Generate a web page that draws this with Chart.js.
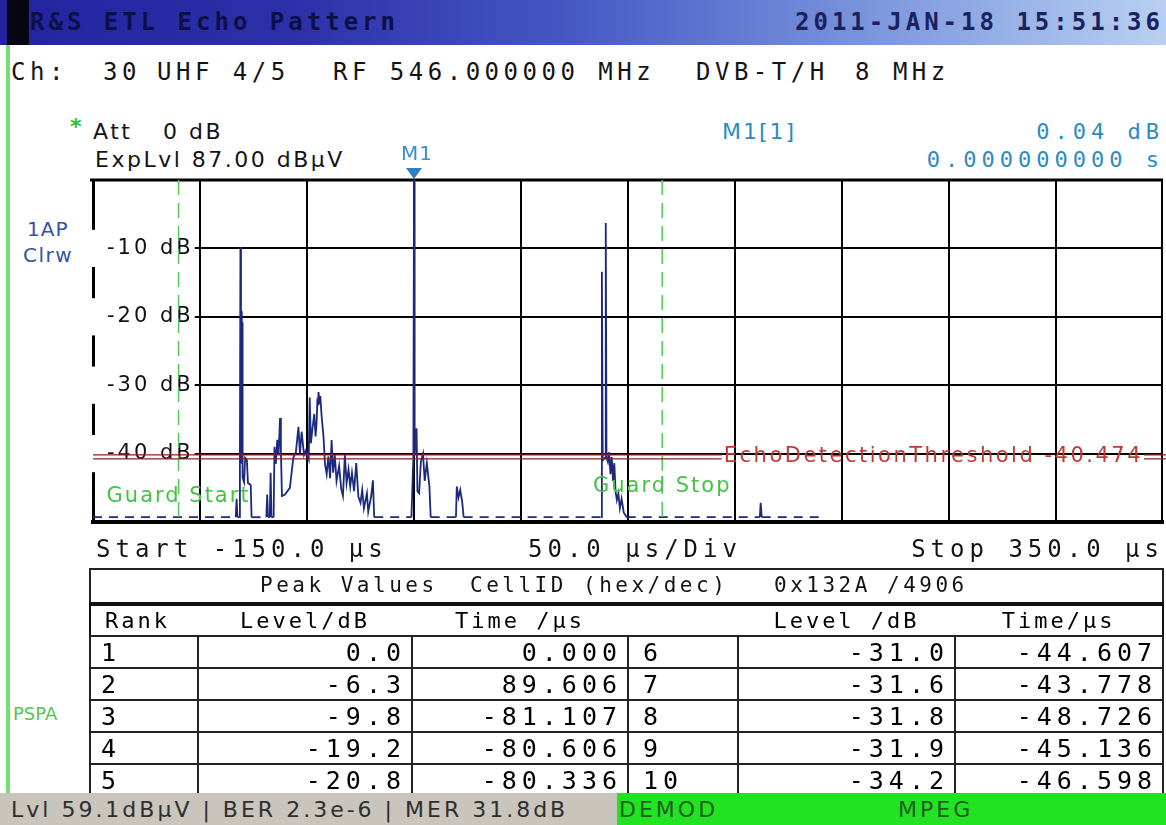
<!DOCTYPE html>
<html>
<head>
<meta charset="utf-8">
<title>R&amp;S ETL Echo Pattern</title>
<script src="https://cdn.jsdelivr.net/npm/chart.js@4.4.1/dist/chart.umd.min.js"></script>
<style>
  html, body { margin: 0; padding: 0; background: #fff; }
  #screen { position: relative; width: 1166px; height: 825px; overflow: hidden; background: #fff; }
  .t { position: absolute; white-space: pre; line-height: 1; color: #141414; }
  .mono { font-family: 'DejaVu Sans Mono', monospace; }
  .sans { font-family: 'DejaVu Sans', sans-serif; }
  #titlebar { position: absolute; left: 0; top: 0; width: 1166px; height: 45px;
    background: linear-gradient(to right, #2323a0 0%, #2c30a8 25%, #4556c4 48%, #7a94dc 74%, #b9d0f2 100%); }
  #titlebar .blk { position: absolute; left: 7px; top: 0; width: 22px; height: 45px; background: #060612; }
  #greenstrip { position: absolute; left: 6px; top: 45px; width: 4px; height: 750px; background: #74e074; }
  #plotbox { position: absolute; left: 0; top: 140px; width: 1166px; height: 400px; }
  #peaks { position: absolute; left: 89px; top: 568px; width: 1073px; border-collapse: collapse;
    table-layout: fixed; border: 2px solid #111; }
  #peaks td { padding: 0; border: 2px solid #222; white-space: pre; line-height: 1; }
  #peaks tr.h1 td { height: 32px; border-bottom: 4px solid #111; }
  #peaks tr.h2 td { height: 29px; border-left: none; border-right: none; text-align: center;
    font: 22px 'DejaVu Sans Mono', monospace; letter-spacing: 3px; }
  #peaks tr.row td { height: 30px; font: 25px 'DejaVu Sans Mono', monospace; letter-spacing: 5px; }
  #peaks td.rk { padding-left: 10px; }
  #peaks td.rk2 { padding-left: 14px; }
  #peaks td.num { text-align: right; padding-right: 5px; }
  #statusgrey { position: absolute; left: 0; top: 793px; width: 617px; height: 32px; background: #c9c5bd; }
  #statusgreen { position: absolute; left: 617px; top: 793px; width: 549px; height: 32px; background: #22e322; }
</style>
</head>
<body>
<div id="screen">
  <div id="titlebar"><div class="blk"></div></div>
  <div id="greenstrip"></div>

  <div class="t mono" style="left:30px; top:10px; font-size:24px; font-weight:bold; letter-spacing:4px; color:#0e1048;">R&amp;S ETL Echo Pattern</div>
  <div class="t mono" style="right:2px; top:10px; font-size:24px; font-weight:bold; letter-spacing:4px; color:#1a225e;">2011-JAN-18 15:51:36</div>

  <div class="t mono" style="left:11px; top:60px; font-size:24px; letter-spacing:4.5px;">Ch:</div>
  <div class="t mono" style="left:103px; top:60px; font-size:24px; letter-spacing:4.5px;">30</div>
  <div class="t mono" style="left:157px; top:60px; font-size:24px; letter-spacing:4.5px;">UHF 4/5</div>
  <div class="t mono" style="left:333px; top:60px; font-size:24px; letter-spacing:4.5px;">RF 546.000000 MHz</div>
  <div class="t mono" style="left:696px; top:60px; font-size:24px; letter-spacing:4.5px;">DVB-T/H</div>
  <div class="t mono" style="left:855px; top:60px; font-size:24px; letter-spacing:4.5px;">8 MHz</div>

  <div class="t sans" style="left:70px; top:116px; font-size:22px; font-weight:bold; color:#2fc02f;">*</div>
  <div class="t sans" style="left:93px; top:121px; font-size:22px; letter-spacing:2.5px;">Att</div>
  <div class="t sans" style="left:163px; top:121px; font-size:22px; letter-spacing:2.5px;">0 dB</div>
  <div class="t sans" style="left:95px; top:149px; font-size:22px; letter-spacing:2.5px;">ExpLvl 87.00 dBµV</div>

  <div class="t sans" style="left:722px; top:121px; font-size:22px; letter-spacing:2px; color:#2b8cc0;">M1[1]</div>
  <div class="t mono" style="right:2px; top:121px; font-size:22px; letter-spacing:5px; color:#2b8cc0;">0.04 dB</div>
  <div class="t mono" style="right:2px; top:149px; font-size:22px; letter-spacing:5px; color:#2b8cc0;">0.000000000 s</div>

  <div class="t sans" style="left:27px; top:219px; font-size:20px; letter-spacing:1px; color:#3552a6;">1AP</div>
  <div class="t sans" style="left:23px; top:245px; font-size:20px; letter-spacing:1.5px; color:#3552a6;">Clrw</div>

  <div id="plotbox"><canvas id="echoChart" width="1166" height="400"></canvas></div>

  <div class="t mono" style="left:96px; top:537px; font-size:24px; letter-spacing:5px;">Start -150.0 µs</div>
  <div class="t mono" style="left:528px; top:537px; font-size:24px; letter-spacing:5px;">50.0 µs/Div</div>
  <div class="t mono" style="right:2px; top:537px; font-size:24px; letter-spacing:5px;">Stop 350.0 µs</div>

  <table id="peaks">
    <colgroup>
      <col style="width:108px"><col style="width:214px"><col style="width:216px">
      <col style="width:110px"><col style="width:217px"><col style="width:208px">
    </colgroup>
    <tbody id="peakBody">
      <tr class="h1"><td colspan="6"></td></tr>
      <tr class="h2"><td style="text-align:left; padding-left:14px;">Rank</td><td>Level/dB</td><td>Time /µs</td><td></td><td>Level /dB</td><td>Time/µs</td></tr>
    </tbody>
  </table>
  <div class="t mono" style="left:260px; top:575px; font-size:21px; letter-spacing:3.5px;">Peak Values</div>
  <div class="t mono" style="left:470px; top:575px; font-size:21px; letter-spacing:3.5px;">CellID (hex/dec)</div>
  <div class="t mono" id="cellText" style="left:774px; top:575px; font-size:21px; letter-spacing:3.5px;"></div>

  <div class="t sans" style="left:13px; top:705px; font-size:18px; color:#56c456;">PSPA</div>

  <div id="statusgrey"></div>
  <div id="statusgreen"></div>
  <div class="t sans" style="left:11px; top:799px; font-size:22px; letter-spacing:3px; color:#2e2e2e;">Lvl 59.1dBµV | BER 2.3e-6 | MER 31.8dB</div>
  <div class="t sans" style="left:619px; top:799px; font-size:22px; letter-spacing:3px; color:#1d5e1d;">DEMOD</div>
  <div class="t sans" style="left:898px; top:799px; font-size:22px; letter-spacing:3px; color:#1d5e1d;">MPEG</div>
</div>

<script>
// axis ranges
const timeMin = -150, timeMax = 350, timeStep = 50;
const levelMin = -50, levelMax = 0;
const levelTicks = [-10, -20, -30, -40];

// trace (time in µs, level in dB)
const noiseFloor = -49.3;
const traceTime = [
  -150, -83.3, -82.9, -82.5, -81.6, -81.35, -81.107, -80.85, -80.606, -80.47,
  -80.336, -80.1, -79.4, -78.9, -78.1, -77.6, -76.3, -75.9, -69.0, -68.6,
  -68.2, -67.4, -67.0, -66.6, -65.6, -65.2, -64.6, -63.9, -63.3, -62.6,
  -62.2, -61.7, -60.3, -58.0, -56.4, -55.2, -54.0, -53.3, -52.5, -51.4,
  -50.5, -49.2, -48.726, -48.2, -47.4, -46.598, -46.0, -45.5, -45.136, -44.9,
  -44.607, -44.2, -43.778, -43.2, -42.3, -41.6, -40.8, -40.0, -39.2, -38.5,
  -37.8, -37.0, -36.2, -35.0, -34.0, -33.2, -32.3, -31.5, -30.6, -29.8,
  -29.0, -28.0, -27.0, -26.0, -25.0, -24.2, -23.4, -22.0, -21.4, -20.0,
  -19.2, -18.6, -1.2, -0.3, 0, 0.3, 1.2, 1.6, 2.4, 3.2,
  4.2, 5.0, 6.0, 7.2, 7.8, 19.6, 20.0, 20.8, 21.6, 22.5,
  23.2, 87.5, 87.8, 88.2, 89.3, 89.606, 89.95, 90.6, 91.2, 91.8,
  92.4, 93.0, 93.6, 94.2, 94.8, 95.5, 96.2, 97.0, 98.0, 99.4,
  161.6, 162.0, 162.5, 190
];
const traceLevel = [
  noiseFloor, noiseFloor, -46.6, noiseFloor, noiseFloor, -40.8, -9.8, -41.5, -19.2, -30.5,
  -20.8, -43.5, -44.2, -40.6, -40.9, -44.3, -44.6, noiseFloor, noiseFloor, -46.0,
  noiseFloor, noiseFloor, -42.8, noiseFloor, noiseFloor, -39.0, -41.5, -38.0, -40.2, -34.8,
  -39.5, -46.2, -46.0, -45.0, -40.6, -39.8, -36.1, -40.0, -36.8, -40.2,
  -39.5, -40.8, -31.8, -38.5, -36.2, -34.2, -37.5, -35.5, -31.9, -33.0,
  -31.0, -32.8, -31.6, -34.4, -37.5, -41.5, -43.0, -40.4, -43.6, -38.0,
  -42.8, -40.2, -44.0, -41.8, -45.2, -46.2, -40.2, -44.3, -42.3, -44.8,
  -42.8, -45.5, -41.4, -46.3, -47.2, -45.3, -48.0, -45.8, -48.5, -46.2,
  -43.9, noiseFloor, noiseFloor, -40.5, 0.0, -40.2, -36.3, -45.5, -45.8, -41.2,
  -40.0, -44.0, -41.4, -44.8, noiseFloor, noiseFloor, -44.8, -46.4, -45.3, -47.0,
  noiseFloor, noiseFloor, -13.4, -41.0, -40.6, -6.3, -40.5, -41.2, -39.8, -43.0,
  -40.5, -44.0, -41.4, -45.6, -46.8, -45.8, -48.0, -46.6, -48.6, noiseFloor,
  noiseFloor, -47.2, noiseFloor, noiseFloor
];

const guardTimes = [-110, 116];
const guardNames = ['Guard Start', 'Guard Stop'];
const thresholdName = 'EchoDetectionThreshold';
const thresholdLevel = -40.474;
const markerName = 'M1';
const markerTime = 0;

// peak table
const peakRank = [1, 2, 3, 4, 5, 6, 7, 8, 9, 10];
const peakLevel = [0.0, -6.3, -9.8, -19.2, -20.8, -31.0, -31.6, -31.8, -31.9, -34.2];
const peakTime = [0.000, 89.606, -81.107, -80.606, -80.336, -44.607, -43.778, -48.726, -45.136, -46.598];
const cellIdHex = '0x132A';
const cellIdDec = 4906;

document.getElementById('cellText').textContent = cellIdHex + ' /' + cellIdDec;

const body = document.getElementById('peakBody');
for (let i = 0; i < 5; i++) {
  const j = i + 5;
  const tr = document.createElement('tr');
  tr.className = 'row';
  tr.innerHTML =
    '<td class="rk">' + peakRank[i] + '</td>' +
    '<td class="num">' + peakLevel[i].toFixed(1) + '</td>' +
    '<td class="num">' + peakTime[i].toFixed(3) + '</td>' +
    '<td class="rk2">' + peakRank[j] + '</td>' +
    '<td class="num">' + peakLevel[j].toFixed(1) + '</td>' +
    '<td class="num">' + peakTime[j].toFixed(3) + '</td>';
  body.appendChild(tr);
}

// frame, threshold, guard lines and marker
const screenDecor = {
  id: 'screenDecor',
  beforeUpdate(chart) { chart.ctx.letterSpacing = '3px'; },
  beforeDraw(chart) { chart.ctx.letterSpacing = '3px'; },
  beforeDatasetsDraw(chart) {
    const { ctx, chartArea: a } = chart;
    ctx.save();
    ctx.strokeStyle = '#000';
    ctx.lineWidth = 3;
    ctx.beginPath();
    ctx.moveTo(a.left - 3, a.top);
    ctx.lineTo(a.right, a.top);
    ctx.stroke();
    ctx.lineWidth = 2;
    ctx.beginPath();
    ctx.moveTo(a.right - 1, a.top);
    ctx.lineTo(a.right - 1, a.bottom);
    ctx.stroke();
    ctx.restore();
  },
  afterDatasetsDraw(chart) {
    const { ctx, chartArea: a, scales: { x, y } } = chart;
    ctx.save();

    // guard interval
    ctx.font = '21px "DejaVu Sans"';
    ctx.letterSpacing = '2px';
    ctx.textAlign = 'center';
    ctx.textBaseline = 'middle';
    guardTimes.forEach((t, i) => {
      const px = x.getPixelForValue(t);
      ctx.strokeStyle = '#52c952';
      ctx.lineWidth = 1.5;
      ctx.setLineDash([15, 8]);
      ctx.beginPath();
      ctx.moveTo(px, a.top);
      ctx.lineTo(px, a.bottom);
      ctx.stroke();
      ctx.setLineDash([]);
      ctx.fillStyle = '#47c047';
      ctx.fillText(guardNames[i], px, a.bottom - (i === 0 ? 25 : 35));
    });

    // echo detection threshold
    const ty = y.getPixelForValue(thresholdLevel);
    ctx.font = '21px "DejaVu Sans"';
    ctx.letterSpacing = '2.5px';
    ctx.textAlign = 'left';
    const label = thresholdName + ' ' + thresholdLevel.toFixed(3);
    const w = ctx.measureText(label).width;
    const textRight = a.right - 20;
    const textLeft = textRight - w;
    ctx.strokeStyle = '#8a2222';
    ctx.lineWidth = 1.4;
    ctx.beginPath();
    [-2, 2].forEach(d => {
      ctx.moveTo(a.left, ty + d);
      ctx.lineTo(textLeft - 2, ty + d);
      ctx.moveTo(textRight + 1, ty + d);
      ctx.lineTo(a.right + 3, ty + d);
    });
    ctx.stroke();
    ctx.fillStyle = '#bf3a32';
    ctx.fillText(label, textLeft, ty);

    // marker M1
    const mx = x.getPixelForValue(markerTime);
    ctx.fillStyle = '#2f80c2';
    ctx.beginPath();
    ctx.moveTo(mx - 8, a.top - 12);
    ctx.lineTo(mx + 8, a.top - 12);
    ctx.lineTo(mx, a.top - 1);
    ctx.closePath();
    ctx.fill();
    ctx.font = '20px "DejaVu Sans"';
    ctx.letterSpacing = '1px';
    ctx.textAlign = 'center';
    ctx.fillStyle = '#3d8ec5';
    ctx.fillText(markerName, mx + 3, a.top - 25);

    ctx.restore();
  }
};

const edgeTick = v => v === timeMin || v === timeMax;

new Chart(document.getElementById('echoChart'), {
  type: 'line',
  data: {
    datasets: [{
      label: 'Echo Pattern',
      data: traceTime.map((t, i) => ({ x: t, y: traceLevel[i] })),
      borderColor: '#1b2a7c',
      borderWidth: 1.8,
      pointRadius: 0,
      tension: 0,
      segment: {
        borderDash: c => (c.p0.parsed.y <= noiseFloor && c.p1.parsed.y <= noiseFloor) ? [9, 7] : undefined
      }
    }]
  },
  options: {
    responsive: false,
    animation: false,
    layout: { padding: { left: 93, top: 40, right: 3, bottom: 18 } },
    plugins: { legend: { display: false }, tooltip: { enabled: false } },
    scales: {
      x: {
        type: 'linear',
        min: timeMin,
        max: timeMax,
        ticks: { display: false, stepSize: timeStep },
        grid: {
          color: c => (c.tick && edgeTick(c.tick.value)) ? 'rgba(0,0,0,0)' : '#000',
          lineWidth: 2,
          drawTicks: false
        },
        border: { color: '#000', width: 4 }
      },
      y: {
        position: 'left',
        min: levelMin,
        max: levelMax,
        afterBuildTicks: s => { s.ticks = levelTicks.map(v => ({ value: v })); },
        // labels sit inside the plot, so the axis itself takes no room
        afterFit: s => { s.width = 0; s.paddingTop = 0; s.paddingBottom = 0; },
        grid: { color: '#000', lineWidth: 2, drawTicks: false },
        border: { color: '#000', width: 3 },
        ticks: {
          mirror: true,
          padding: 14,
          color: '#111',
          font: { family: 'DejaVu Sans', size: 21 },
          showLabelBackdrop: true,
          backdropColor: '#fff',
          backdropPadding: { left: 16, right: 1, top: 6, bottom: 6 },
          callback: v => v + ' dB'
        }
      }
    }
  },
  plugins: [screenDecor]
});
</script>
</body>
</html>
